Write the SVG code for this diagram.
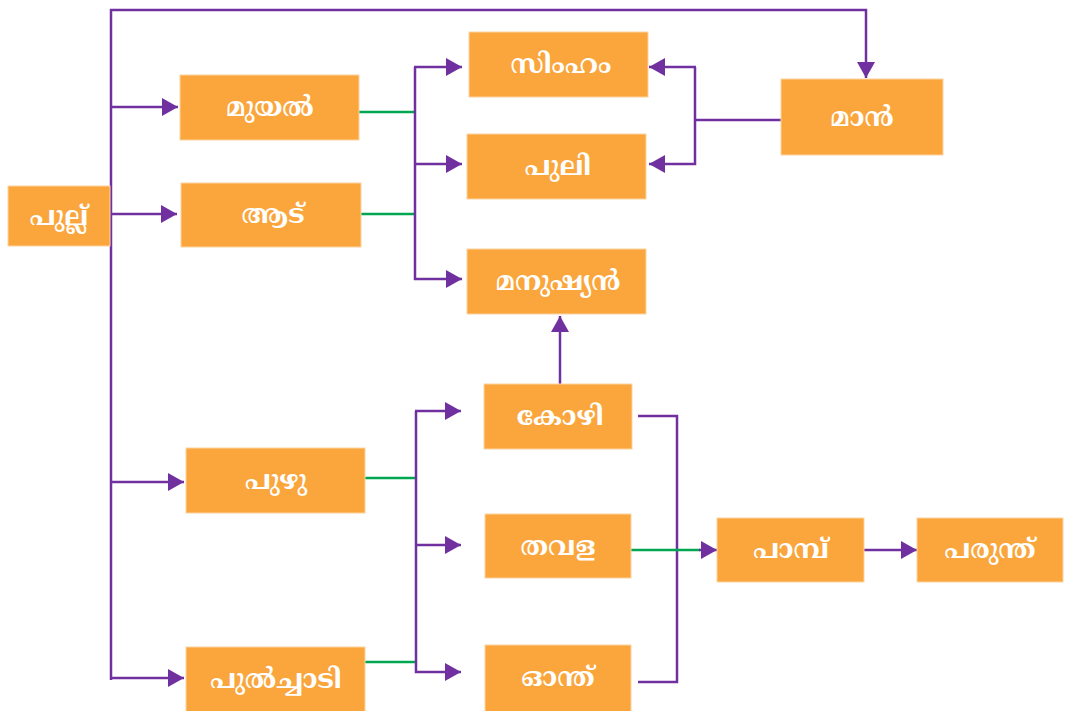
<svg xmlns="http://www.w3.org/2000/svg" width="1065" height="711" viewBox="0 0 1065 711">
<style>
.box{fill:#FAA63D;stroke:#FCD3A0;stroke-width:1}
.lbl{font-family:"Noto Serif Malayalam","Noto Sans Malayalam","Noto Sans","DejaVu Sans",sans-serif;font-weight:bold;font-size:27px;fill:#ffffff;text-anchor:middle;dominant-baseline:central}
.p{fill:none;stroke:#7030A0;stroke-width:2.5}
.g{fill:none;stroke:#00A650;stroke-width:2.5}
</style>
<defs>
<marker id="ah" markerUnits="userSpaceOnUse" markerWidth="16" markerHeight="18" refX="16" refY="9" orient="auto">
<path d="M0,0 L16,9 L0,18 Z" fill="#7030A0"/>
</marker>
</defs>
<rect width="1065" height="711" fill="#ffffff"/>
<g id="connectors">
<path class="p" d="M111,680 V10 H866 V78" marker-end="url(#ah)"/>
<path class="p" d="M111,107 H178" marker-end="url(#ah)"/>
<path class="p" d="M111,214 H177" marker-end="url(#ah)"/>
<path class="p" d="M111,482 H184" marker-end="url(#ah)"/>
<path class="p" d="M110,678 H184" marker-end="url(#ah)"/>
<path class="g" d="M359,112 H415"/>
<path class="g" d="M361,214 H415"/>
<path class="p" d="M415,67 V279 H462" marker-end="url(#ah)"/>
<path class="p" d="M414,67 H462" marker-end="url(#ah)"/>
<path class="p" d="M415,164 H462" marker-end="url(#ah)"/>
<path class="g" d="M365,478 H416"/>
<path class="g" d="M365,662 H416"/>
<path class="p" d="M416,411 V672 H461" marker-end="url(#ah)"/>
<path class="p" d="M415,411 H461" marker-end="url(#ah)"/>
<path class="p" d="M416,545 H461" marker-end="url(#ah)"/>
<path class="p" d="M781,120 H695"/>
<path class="p" d="M695,67 V164 H649" marker-end="url(#ah)"/>
<path class="p" d="M696,67 H649" marker-end="url(#ah)"/>
<path class="p" d="M560,385 V316" marker-end="url(#ah)"/>
<path class="p" d="M638,416 H677 V682 H638"/>
<path class="g" d="M631,550 H700"/>
<path class="p" d="M699,550 H717" stroke-width="0" marker-end="url(#ah)"/>
<path class="p" d="M864,550 H917" marker-end="url(#ah)"/>
</g>
<g id="n-pullu"><rect class="box" x="8" y="186" width="102" height="60"/><text class="lbl" x="59" y="218">പുല്ല്</text></g>
<g id="n-muyal"><rect class="box" x="180" y="75" width="179" height="65"/><text class="lbl" x="270" y="109">മുയൽ</text></g>
<g id="n-aadu"><rect class="box" x="181" y="183" width="180" height="64"/><text class="lbl" x="273" y="216">ആട്</text></g>
<g id="n-simham"><rect class="box" x="469" y="32" width="179" height="65"/><text class="lbl" x="561" y="66">സിംഹം</text></g>
<g id="n-puli"><rect class="box" x="467" y="134" width="179" height="65"/><text class="lbl" x="558" y="168">പുലി</text></g>
<g id="n-manushyan"><rect class="box" x="467" y="249" width="179" height="65"/><text class="lbl" x="558" y="283">മനുഷ്യൻ</text></g>
<g id="n-maan"><rect class="box" x="781" y="79" width="162" height="76"/><text class="lbl" x="862" y="119">മാൻ</text></g>
<g id="n-puzhu"><rect class="box" x="186" y="448" width="179" height="65"/><text class="lbl" x="276" y="482">പുഴു</text></g>
<g id="n-pulchaadi"><rect class="box" x="186" y="647" width="179" height="66"/><text class="lbl" x="276" y="681">പുൽച്ചാടി</text></g>
<g id="n-kozhi"><rect class="box" x="484" y="384" width="148" height="65"/><text class="lbl" x="560" y="418">കോഴി</text></g>
<g id="n-thavala"><rect class="box" x="485" y="514" width="146" height="64"/><text class="lbl" x="558" y="548">തവള</text></g>
<g id="n-onthu"><rect class="box" x="485" y="645" width="146" height="68"/><text class="lbl" x="558" y="679">ഓന്ത്</text></g>
<g id="n-paambu"><rect class="box" x="717" y="518" width="147" height="64"/><text class="lbl" x="791" y="551">പാമ്പ്</text></g>
<g id="n-parunthu"><rect class="box" x="917" y="518" width="146" height="64"/><text class="lbl" x="990" y="551">പരുന്ത്</text></g>
</svg>
